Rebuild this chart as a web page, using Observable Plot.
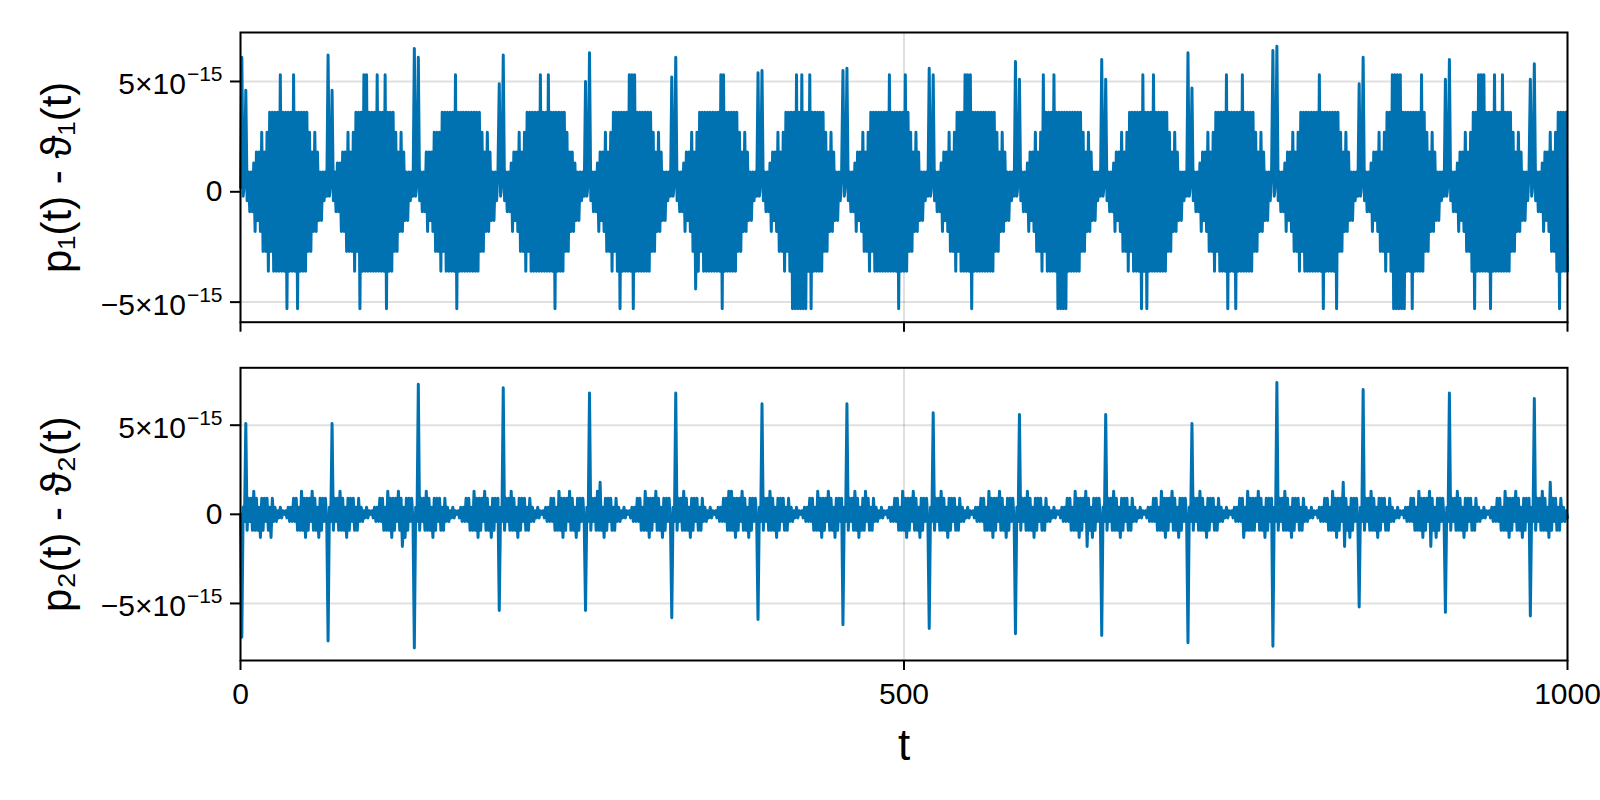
<!DOCTYPE html>
<html><head><meta charset="utf-8">
<script src="https://cdn.jsdelivr.net/npm/d3@7"></script>
<script src="https://cdn.jsdelivr.net/npm/@observablehq/plot@0.6"></script>
<style>
html,body{margin:0;padding:0;background:#fff;overflow:hidden;}
#chart{width:1600px;height:800px;position:relative;}
#chart svg{display:block;}
</style></head><body><div id="chart"></div>
<script>
// Values, in units of 1e-16 (one value per t = 0..1000)
const valueUnit = 1e-16;
const xTicks = [0, 500, 1000];
const yTicks = [-5e-15, 0, 5e-15];
const yLabelTop = "p₁(t) - ϑ₁(t)";
const yLabelBottom = "p₂(t) - ϑ₂(t)";
const xLabel = "t";
const topDomain = [-5.91e-15, 7.22e-15];
const bottomDomain = [-8.2e-15, 8.22e-15];

const p1Diff = [2,
61,-2,4,46,-4,9,-9,9,-9,13,-18,18,-13,18,-18,27,-27,18,-27,27,-36,36,-27,36,-36,36,-36,36,-36,53,-36,36,-36,36,-53,36,-36,36,-36,53,-36,36,-53,36,-36,36,-36,36,-36,36,-27,27,-27,18,-18,27,-18,18,-13,9,-13,9,-4,9,-2,
62,-2,4,46,-4,9,-9,13,-9,13,-18,18,-18,18,-27,27,-27,18,-27,27,-36,36,-27,36,-53,36,-36,53,-36,53,-36,36,-36,36,-36,36,-36,53,-36,36,-36,36,-36,53,-53,36,-36,36,-36,36,-27,27,-27,18,-18,27,-18,18,-13,9,-13,9,-4,9,-2,
65,-2,4,61,-4,9,-9,9,-9,18,-18,18,-13,18,-18,27,-27,27,-27,27,-36,36,-27,36,-36,36,-36,36,-36,36,-36,53,-53,36,-36,36,-36,36,-36,36,-36,36,-36,36,-36,36,-36,36,-36,36,-27,27,-27,18,-18,27,-18,18,-13,9,-13,9,-4,9,
49,-2,4,62,-4,9,-9,9,-9,13,-18,18,-13,18,-18,27,-27,18,-27,27,-36,36,-27,36,-36,36,-36,36,-36,36,-36,53,-36,36,-36,36,-36,53,-36,36,-36,36,-53,36,-36,36,-36,36,-36,36,-27,27,-27,18,-18,18,-18,13,-13,9,-13,9,-4,9,-2,
50,-2,4,63,-4,9,-9,9,-9,13,-18,18,-13,18,-18,27,-27,18,-27,27,-36,36,-27,36,-36,36,-53,36,-36,36,-36,36,-36,53,-36,53,-53,53,-36,36,-36,36,-36,36,-36,36,-36,36,-36,36,-27,27,-27,18,-18,27,-18,18,-13,9,-13,9,-4,9,-2,
52,-2,4,61,-4,9,-9,9,-9,13,-18,18,-13,18,-18,27,-27,18,-44,27,-36,36,-27,36,-36,36,-36,36,-36,36,-36,36,-36,36,-36,36,-36,53,-53,53,-36,36,-36,36,-36,36,-36,36,-36,36,-27,27,-27,18,-18,27,-18,18,-13,9,-13,9,-4,9,-2,
54,-2,4,55,-4,9,-9,9,-9,13,-18,18,-13,18,-18,27,-27,18,-27,27,-36,36,-27,36,-36,36,-53,36,-53,53,-53,36,-53,53,-53,36,-53,36,-36,53,-53,36,-36,36,-36,36,-36,36,-36,36,-27,27,-27,18,-18,27,-18,18,-13,9,-13,9,-4,9,
55,-2,4,56,-4,9,-9,9,-9,13,-18,18,-13,18,-18,27,-27,18,-27,27,-36,36,-27,36,-36,36,-36,36,-36,36,-36,36,-36,36,-36,53,-36,36,-36,36,-36,36,-53,36,-36,36,-36,53,-36,36,-27,27,-27,18,-18,27,-18,18,-13,9,-13,9,-4,9,-2,
56,-2,4,53,-4,9,-9,9,-9,13,-18,18,-13,18,-18,27,-27,18,-27,27,-36,36,-27,36,-36,36,-36,53,-36,53,-36,53,-53,36,-36,36,-36,36,-36,36,-36,36,-36,36,-36,36,-36,36,-36,36,-27,27,-27,18,-18,27,-18,18,-13,9,-13,9,-4,9,-2,
59,-2,4,51,-4,9,-9,9,-9,13,-18,18,-13,18,-18,27,-27,18,-27,27,-36,53,-27,36,-36,36,-36,36,-36,53,-36,36,-53,36,-53,36,-53,36,-53,36,-36,36,-36,36,-36,36,-36,36,-36,36,-27,27,-27,18,-18,27,-18,18,-13,9,-13,9,-4,9,-2,
60,-2,4,51,-4,9,-9,9,-9,13,-18,18,-13,18,-18,27,-27,18,-27,27,-36,36,-27,36,-36,36,-36,36,-36,36,-53,53,-36,36,-53,36,-36,36,-36,53,-36,36,-36,36,-36,36,-36,36,-36,36,-27,27,-27,18,-18,27,-18,18,-13,9,-13,9,-4,9,-2,
63,-2,4,47,-4,9,-9,9,-9,13,-18,18,-13,18,-18,27,-27,18,-27,27,-36,36,-27,36,-36,36,-36,36,-36,53,-53,36,-36,36,-36,36,-53,36,-36,36,-36,53,-36,36,-36,36,-36,36,-36,36,-27,27,-27,18,-18,27,-18,18,-13,9,-13,9,-4,9,
64,-2,4,66,-4,9,-9,9,-9,13,-18,18,-13,18,-18,27,-27,18,-27,27,-36,36,-27,36,-36,36,-36,36,-36,36,-36,36,-36,36,-36,53,-36,36,-53,36,-36,36,-36,36,-36,36,-36,36,-53,36,-27,27,-27,18,-18,27,-18,18,-13,9,-13,9,-4,9,-2,
49,-2,4,61,-4,9,-9,9,-9,13,-18,18,-13,18,-18,27,-27,18,-27,27,-36,36,-27,36,-36,53,-53,53,-53,53,-53,53,-53,36,-53,36,-36,36,-36,36,-53,36,-36,36,-36,36,-36,53,-36,36,-27,27,-27,18,-18,27,-18,18,-13,9,-13,9,-4,9,-2,
51,-2,4,60,-4,9,-9,9,-9,13,-18,18,-13,18,-18,27,-27,18,-27,27,-36,36,-53,36,-36,53,-36,53,-36,53,-36,36,-36,36,-53,36,-36,53,-36,36,-36,36,-36,53,-36,36,-36,36,-36,36,-27,27,-27,18,-18,27,-18,18,-13,9,-13,9,-4,9,
51,-2,4,58,-4,9,-9,9,-9,13,-18,18,-13,18,-18,27,-27,18,-27,27,-36,36,-53,36,-36,36,-36,36,-36
];

const p2Diff = [0,
-69,4,-4,51,-9,9,-4,9,-9,13,-9,9,-9,4,-13,9,-9,9,-4,9,-9,4,-13,9,-4,4,-4,2,-2,4,-2,2,0,2,-2,4,-4,4,-4,9,-4,9,-9,4,-9,13,-9,9,-13,9,-9,9,-4,13,-9,9,-9,4,-13,9,-9,9,-4,9,-4,
-71,4,-4,51,-9,9,-4,9,-9,13,-9,9,-9,4,-13,9,-9,9,-4,9,-9,4,-9,9,-4,4,-4,2,-2,4,-2,2,0,2,-2,4,-4,4,-4,9,-4,9,-9,4,-9,13,-9,9,-13,9,-9,9,-4,13,-9,9,-18,4,-13,9,-9,9,-4,9,-4,
-75,4,-4,73,-9,9,-4,9,-9,13,-9,9,-9,4,-13,9,-9,9,-4,9,-9,4,-9,9,-4,4,-4,2,-2,4,-2,2,0,2,-2,4,-4,4,-4,9,-4,9,-9,4,-9,13,-9,9,-13,9,-9,9,-4,13,-9,9,-9,4,-13,9,-9,9,-4,9,
-54,4,-4,71,-9,9,-4,9,-9,13,-9,9,-9,4,-13,9,-9,9,-4,9,-9,4,-9,9,-4,4,-4,2,-2,4,-2,2,0,2,-2,4,-4,4,-4,9,-4,9,-9,4,-9,13,-9,9,-13,9,-9,9,-4,13,-9,9,-9,4,-13,9,-9,9,-4,9,-4,
-54,4,-4,68,-9,9,-4,9,-9,13,-9,18,-9,4,-13,9,-9,9,-4,9,-9,4,-9,9,-4,4,-4,2,-2,4,-2,2,0,2,-2,4,-4,4,-4,9,-4,9,-9,4,-9,13,-9,9,-13,9,-9,9,-4,13,-9,9,-9,4,-13,9,-9,9,-4,9,-4,
-58,4,-4,68,-9,9,-4,9,-9,13,-9,9,-9,4,-13,9,-9,9,-4,9,-9,4,-9,9,-4,4,-4,2,-2,4,-2,2,0,2,-2,4,-4,4,-4,9,-4,9,-9,13,-9,13,-9,9,-13,9,-9,9,-4,13,-9,9,-9,4,-13,9,-9,9,-4,9,-4,
-59,4,-4,62,-9,9,-4,9,-9,13,-9,9,-9,4,-13,9,-9,9,-4,9,-9,4,-9,9,-4,4,-4,2,-2,4,-2,2,0,2,-2,4,-4,4,-4,9,-4,9,-9,4,-9,13,-9,9,-13,9,-9,9,-4,13,-9,9,-9,4,-13,9,-9,9,-4,9,
-62,4,-4,62,-9,9,-4,9,-9,13,-9,9,-13,4,-9,9,-9,13,-4,9,-9,4,-9,9,-4,4,-4,2,-2,4,-2,2,0,2,-2,4,-4,4,-4,9,-4,9,-9,4,-9,13,-9,9,-13,9,-9,9,-4,13,-9,9,-9,4,-13,9,-9,9,-4,9,-4,
-64,4,-4,57,-9,9,-4,9,-9,13,-9,9,-9,4,-13,9,-9,9,-4,9,-9,4,-9,9,-4,4,-4,2,-2,4,-2,2,0,2,-2,4,-4,4,-4,9,-4,9,-9,4,-9,13,-9,9,-13,9,-9,9,-4,13,-9,9,-9,4,-13,9,-9,9,-4,9,-4,
-67,4,-4,56,-9,9,-4,9,-9,13,-9,9,-9,4,-13,9,-9,9,-4,9,-9,4,-9,9,-4,4,-4,2,-2,4,-2,2,0,2,-2,4,-4,4,-4,9,-4,9,-9,4,-9,13,-9,9,-13,9,-9,9,-4,13,-18,9,-9,4,-13,9,-9,9,-4,9,-4,
-68,4,-4,56,-9,9,-4,9,-9,13,-9,9,-9,4,-13,9,-9,9,-4,9,-9,4,-9,9,-4,4,-4,2,-2,4,-2,2,0,2,-2,4,-4,4,-4,9,-4,9,-9,4,-9,13,-9,9,-13,9,-9,9,-4,13,-9,9,-9,4,-13,9,-9,9,-4,9,-4,
-72,4,-4,51,-9,9,-4,9,-9,13,-9,9,-9,4,-13,9,-9,9,-4,9,-9,4,-9,9,-4,4,-4,2,-2,4,-2,2,0,2,-2,4,-4,4,-4,9,-4,9,-13,4,-9,13,-9,9,-9,9,-9,9,-4,13,-9,9,-9,4,-13,9,-9,9,-4,9,
-74,4,-4,74,-9,9,-4,9,-9,13,-9,9,-9,4,-13,9,-9,9,-4,9,-9,4,-9,9,-4,4,-4,2,-2,4,-2,2,0,2,-2,4,-4,4,-4,9,-4,9,-9,4,-9,13,-9,9,-13,9,-9,9,-4,18,-18,9,-9,4,-13,9,-9,9,-4,9,-4,
-52,4,-4,70,-9,9,-4,9,-9,13,-9,9,-9,4,-13,9,-9,9,-4,9,-9,4,-9,9,-4,4,-4,2,-2,4,-2,2,0,2,-2,4,-4,4,-4,9,-4,9,-9,4,-9,13,-9,9,-13,9,-9,9,-4,13,-18,9,-9,4,-13,9,-9,9,-4,9,-4,
-55,4,-4,68,-9,9,-4,9,-9,13,-9,9,-9,4,-13,9,-9,9,-4,9,-9,4,-9,9,-4,4,-4,2,-2,4,-2,2,0,2,-2,4,-4,4,-4,9,-4,9,-9,4,-9,13,-9,9,-13,9,-9,9,-4,13,-9,9,-9,4,-13,9,-9,9,-4,9,
-57,4,-4,65,-9,9,-4,9,-9,13,-9,9,-9,4,-13,18,-9,9,-4,9,-9,4,-9,9,-4,4,-4,2,-2
];

const ns = "http://www.w3.org/2000/svg";
const fontFamily = "'Liberation Sans', Arial, Helvetica, sans-serif";
const lineColor = "#0072b2";

const yTickFormat = d => d === 0 ? "0" : `${d < 0 ? "\u2212" : ""}${Math.round(Math.abs(d) / 1e-15)}×10|\u221215`;
const xTickFormat = d => String(d);

function rows(values) {
  return d3.range(values.length).map(i => ({t: i, v: values[i] * valueUnit}));
}

function superscripts(svg) {
  svg.querySelectorAll('g[aria-label="y-axis tick label"] text').forEach(el => {
    const s = el.textContent;
    if (!s.includes("|")) return;
    const [base, exp] = s.split("|");
    el.textContent = "";
    const b = document.createElementNS(ns, "tspan");
    b.setAttribute("dy", "3");
    b.textContent = base;
    const e = document.createElementNS(ns, "tspan");
    e.setAttribute("dy", "-13");
    e.setAttribute("dx", "1");
    e.setAttribute("font-size", "21");
    e.textContent = exp;
    el.append(b, e);
  });
}

function panel({values, domain, label, height, marginTop, marginBottom, showX}) {
  const svg = Plot.plot({
    width: 1600,
    height,
    marginLeft: 240,
    marginRight: 33,
    marginTop,
    marginBottom,
    style: {fontFamily, background: "white", color: "black", overflow: "visible"},
    x: {domain: [0, 1000]},
    y: {domain},
    marks: [
      Plot.gridY(yTicks, {stroke: "#000", strokeOpacity: 0.12, strokeWidth: 2}),
      Plot.gridX(xTicks, {stroke: "#000", strokeOpacity: 0.12, strokeWidth: 2}),
      Plot.line(rows(values), {x: "t", y: "v", stroke: lineColor, strokeWidth: 3}),
      Plot.frame({stroke: "#000", strokeWidth: 2}),
      Plot.axisY(yTicks, {tickSize: 10, tickPadding: 8, strokeWidth: 2, fontSize: 30, tickFormat: yTickFormat, label: null}),
      showX
        ? Plot.axisX(xTicks, {tickSize: 10, tickPadding: 12, strokeWidth: 2, fontSize: 30, tickFormat: xTickFormat, label: null})
        : Plot.axisX(xTicks, {tickSize: 10, strokeWidth: 2, tickFormat: () => "", label: null}),
      Plot.text([label], {frameAnchor: "left", textAnchor: "middle", rotate: -90, dx: -183, fontSize: 42, text: d => d}),
      showX ? Plot.text([xLabel], {frameAnchor: "bottom", textAnchor: "middle", dy: 99, fontSize: 44, text: d => d}) : null
    ]
  });
  superscripts(svg);
  return svg;
}

const chart = document.getElementById("chart");
chart.append(panel({values: p1Diff, domain: topDomain, label: yLabelTop, height: 335, marginTop: 32, marginBottom: 13.3, showX: false}));
chart.append(panel({values: p2Diff, domain: bottomDomain, label: yLabelBottom, height: 465, marginTop: 32.3, marginBottom: 140, showX: true}));
</script>
</body></html>
